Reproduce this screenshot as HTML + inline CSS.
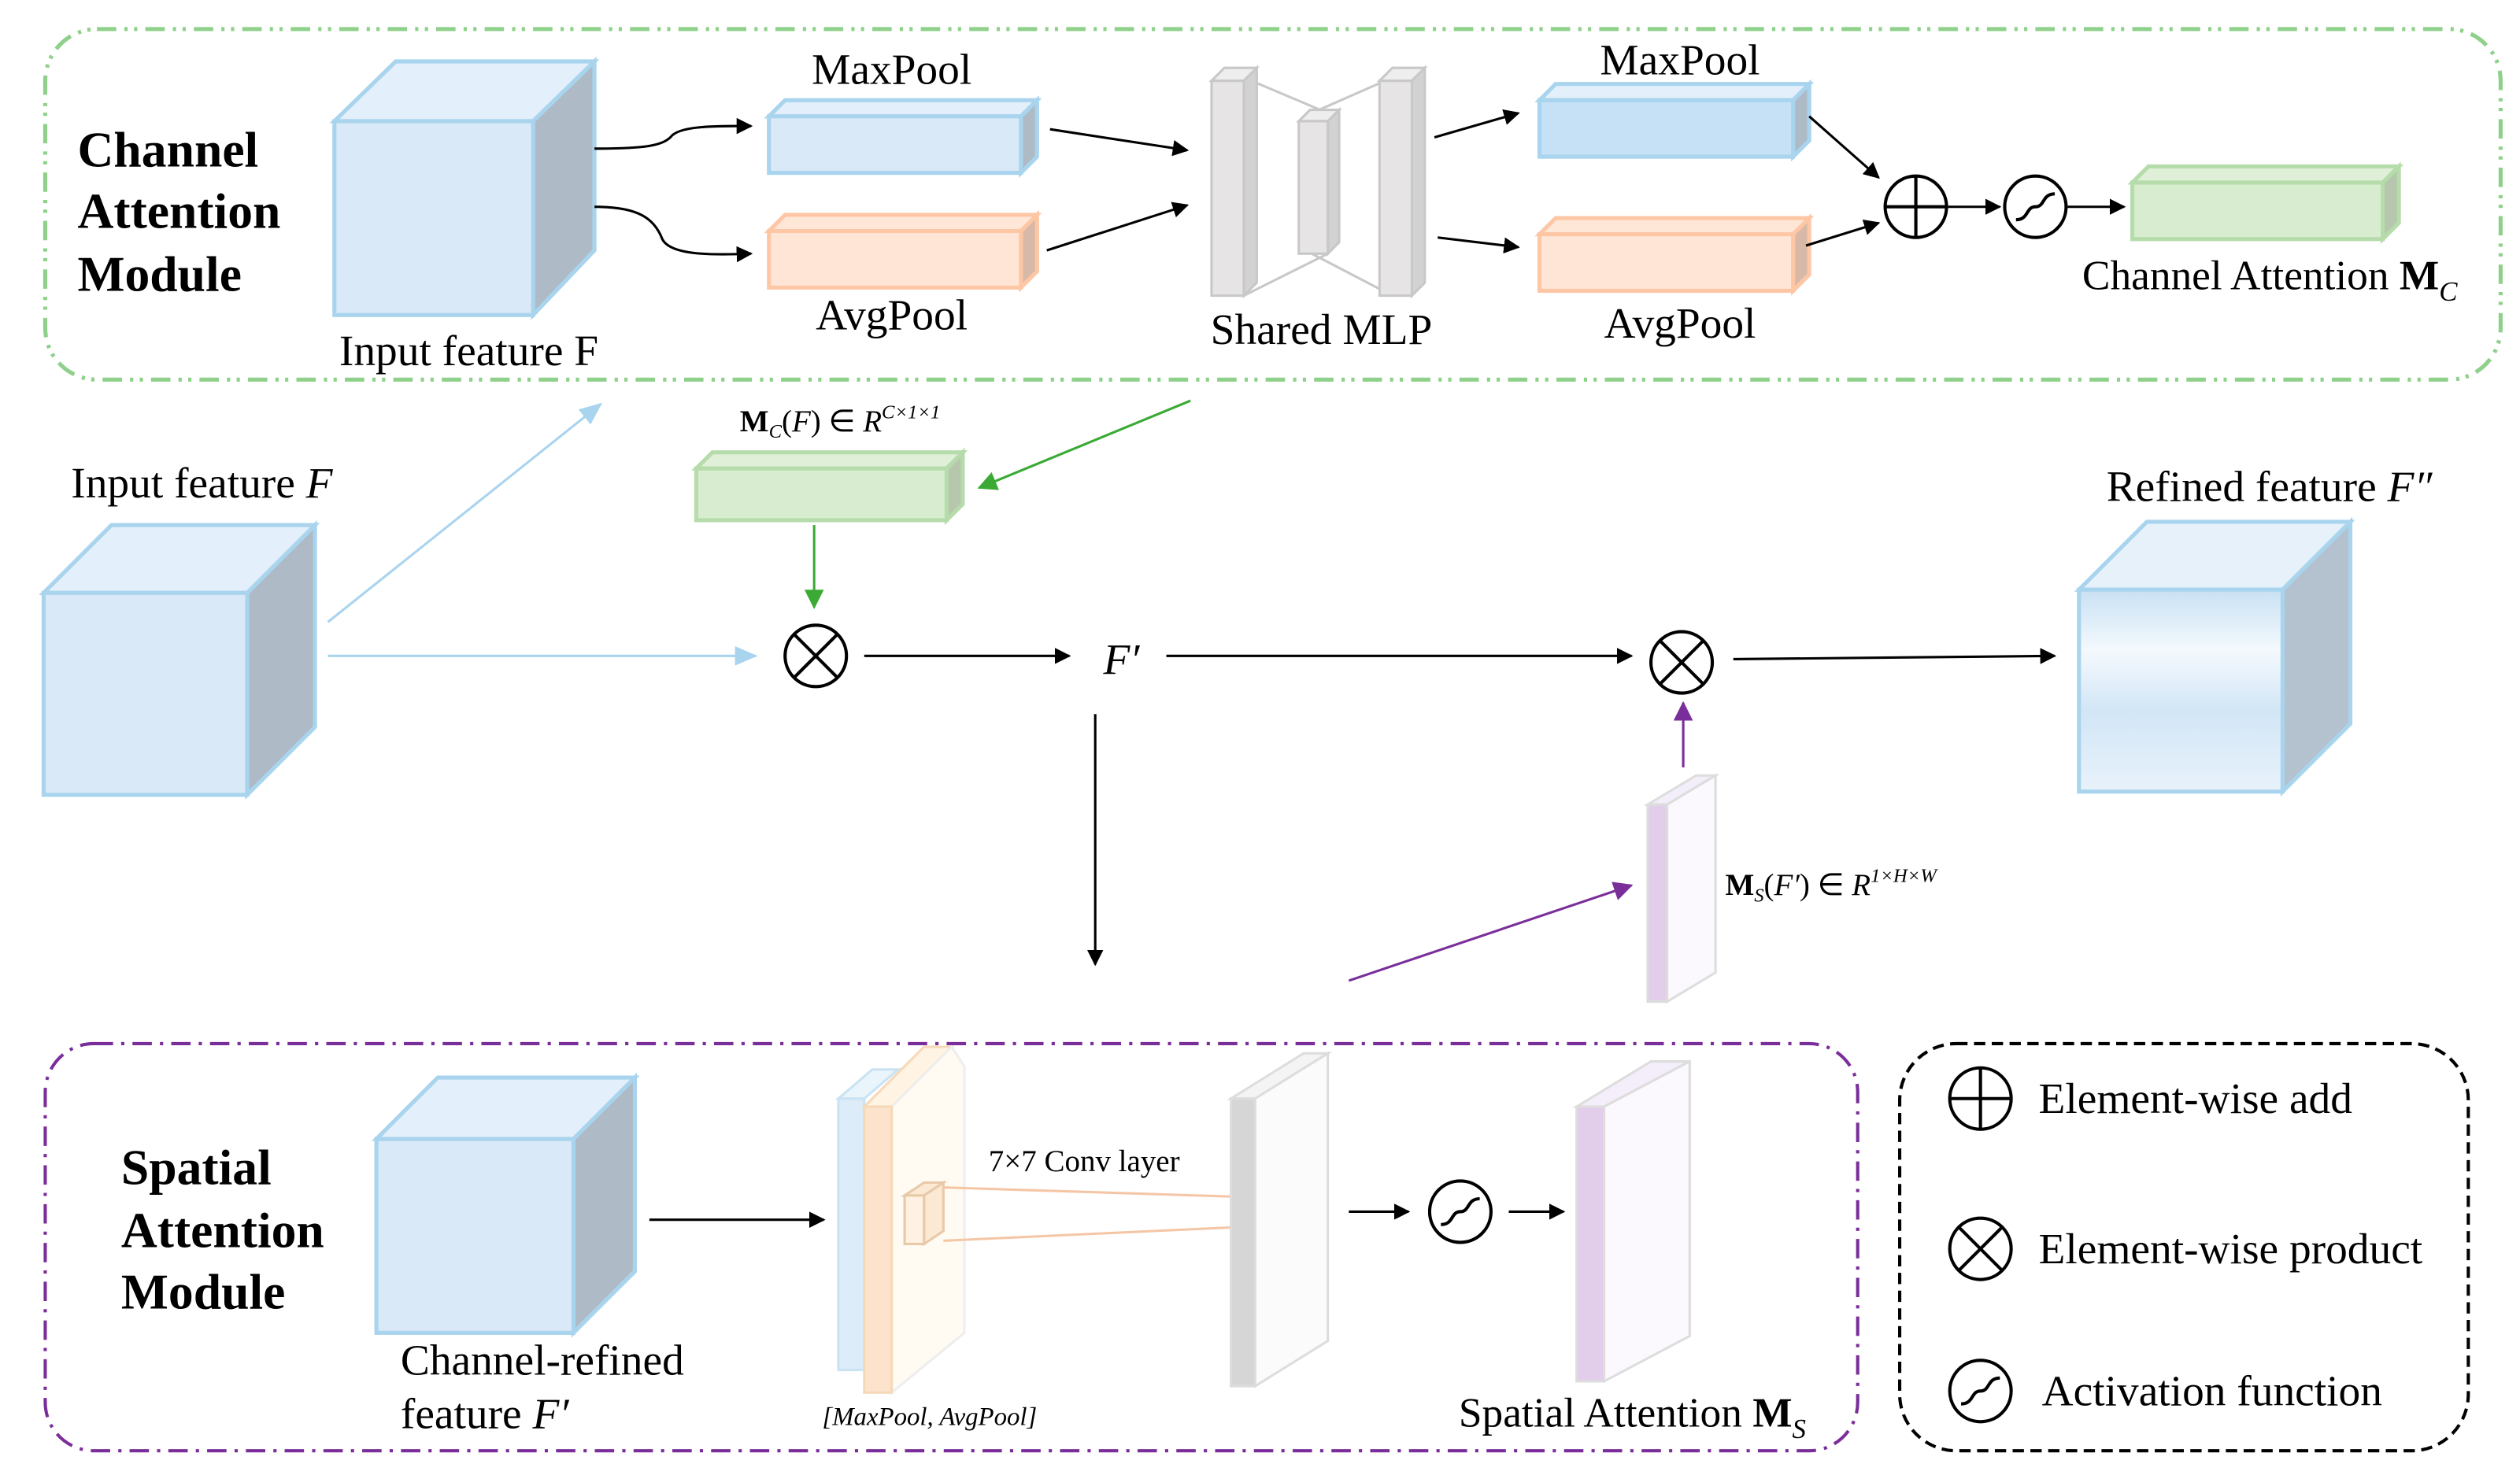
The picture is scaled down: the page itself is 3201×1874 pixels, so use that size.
<!DOCTYPE html>
<html><head><meta charset="utf-8"><style>
html,body{margin:0;padding:0;background:#fff;}
svg{display:block;}
text{font-family:"Liberation Serif",serif;fill:#000;}
</style></head><body>
<svg width="3201" height="1874" viewBox="0 0 1560 913" preserveAspectRatio="none" xmlns="http://www.w3.org/2000/svg">
<defs>
<marker id="ab" markerWidth="10" markerHeight="10" refX="9" refY="5" orient="auto" markerUnits="userSpaceOnUse"><path d="M0,0 L10,5 L0,10 z" fill="#000"/></marker>
<marker id="alb" markerWidth="14" markerHeight="12" refX="13" refY="6" orient="auto" markerUnits="userSpaceOnUse"><path d="M0,0 L14,6 L0,12 z" fill="#a9d4ee"/></marker>
<marker id="ag" markerWidth="12" markerHeight="12" refX="11" refY="6" orient="auto" markerUnits="userSpaceOnUse"><path d="M0,0 L12,6 L0,12 z" fill="#3aaa35"/></marker>
<marker id="ap" markerWidth="12" markerHeight="12" refX="11" refY="6" orient="auto" markerUnits="userSpaceOnUse"><path d="M0,0 L12,6 L0,12 z" fill="#7a2e9a"/></marker>
</defs>

<rect x="28" y="18" width="1520" height="217" rx="32" fill="none" stroke="#8fd08a" stroke-width="2.5" stroke-dasharray="12,5,2,4,2,5"/>
<text x="48" y="103" font-size="31" font-weight="bold">Channel</text>
<text x="48" y="141" font-size="31" font-weight="bold">Attention</text>
<text x="48" y="180" font-size="31" font-weight="bold">Module</text>

<g stroke="#a9d4ee" stroke-width="2.5">
<polygon points="207,75 245,38 368,38 330,75" fill="#e3effa"/>
<polygon points="330,75 368,38 368,155 330,195" fill="#aebbc7"/>
<rect x="207" y="75" width="123" height="120" fill="#dae9f7"/>
</g>
<text x="210" y="226" font-size="27">Input feature F</text>

<path d="M368,92 C400,92 410,90 415,85 C420,78 440,78 465,78" fill="none" stroke="#000" stroke-width="1.5" marker-end="url(#ab)"/>
<path d="M368,128 C395,128 405,135 410,148 C415,158 440,158 465,157" fill="none" stroke="#000" stroke-width="1.5" marker-end="url(#ab)"/>

<g stroke-width="2.5">
<polygon points="476,72 486,62 642,62 632,72" fill="#e3effa" stroke="#a9d4ee"/>
<polygon points="632,72 642,62 642,97 632,107" fill="#aebbc7" stroke="#a9d4ee"/>
<rect x="476" y="72" width="156" height="35" fill="#dae9f7" stroke="#a9d4ee"/>
<polygon points="476,143 486,133 642,133 632,143" fill="#ffe7d8" stroke="#fdc7a6"/>
<polygon points="632,143 642,133 642,168 632,178" fill="#d8b9a8" stroke="#fdc7a6"/>
<rect x="476" y="143" width="156" height="35" fill="#ffe5d6" stroke="#fdc7a6"/>
</g>
<text x="552" y="52" font-size="27" text-anchor="middle">MaxPool</text>
<text x="552" y="204" font-size="27" text-anchor="middle">AvgPool</text>
<line x1="650" y1="80" x2="735" y2="93" stroke="#000" stroke-width="1.5" marker-end="url(#ab)"/>
<line x1="648" y1="155" x2="735" y2="127" stroke="#000" stroke-width="1.5" marker-end="url(#ab)"/>

<g stroke="#c8c8c8" stroke-width="1.5">
<line x1="770" y1="48" x2="822" y2="70"/><line x1="770" y1="183" x2="822" y2="157"/>
<line x1="812" y1="70" x2="862" y2="48"/><line x1="812" y1="157" x2="862" y2="183"/>
<polygon points="750,50 758,42 778,42 770,50" fill="#eee"/><polygon points="770,50 778,42 778,175 770,183" fill="#d2d2d2"/><rect x="750" y="50" width="20" height="133" fill="#e6e4e4"/>
<polygon points="804,75 811,68 829,68 822,75" fill="#eee"/><polygon points="822,75 829,68 829,150 822,157" fill="#d2d2d2"/><rect x="804" y="75" width="18" height="82" fill="#e6e4e4"/>
<polygon points="854,50 862,42 882,42 874,50" fill="#eee"/><polygon points="874,50 882,42 882,175 874,183" fill="#d2d2d2"/><rect x="854" y="50" width="20" height="133" fill="#e6e4e4"/>
</g>
<text x="818" y="213" font-size="27" text-anchor="middle">Shared MLP</text>
<line x1="888" y1="85" x2="940" y2="70" stroke="#000" stroke-width="1.5" marker-end="url(#ab)"/>
<line x1="890" y1="147" x2="940" y2="153" stroke="#000" stroke-width="1.5" marker-end="url(#ab)"/>

<g stroke-width="2.5">
<polygon points="953,62 963,52 1120,52 1110,62" fill="#e3effa" stroke="#a9d4ee"/>
<polygon points="1110,62 1120,52 1120,87 1110,97" fill="#aebbc7" stroke="#a9d4ee"/>
<rect x="953" y="62" width="157" height="35" fill="#c6e0f5" stroke="#a9d4ee"/>
<polygon points="953,145 963,135 1120,135 1110,145" fill="#ffe7d8" stroke="#fdc7a6"/>
<polygon points="1110,145 1120,135 1120,170 1110,180" fill="#d8b9a8" stroke="#fdc7a6"/>
<rect x="953" y="145" width="157" height="35" fill="#ffe5d6" stroke="#fdc7a6"/>
</g>
<text x="1040" y="46" font-size="27" text-anchor="middle">MaxPool</text>
<text x="1040" y="209" font-size="27" text-anchor="middle">AvgPool</text>
<line x1="1120" y1="72" x2="1163" y2="110" stroke="#000" stroke-width="1.5" marker-end="url(#ab)"/>
<line x1="1118" y1="152" x2="1163" y2="138" stroke="#000" stroke-width="1.5" marker-end="url(#ab)"/>

<circle cx="1186" cy="128" r="19" fill="none" stroke="#000" stroke-width="2"/>
<line x1="1167" y1="128" x2="1205" y2="128" stroke="#000" stroke-width="2"/><line x1="1186" y1="109" x2="1186" y2="147" stroke="#000" stroke-width="2"/>
<line x1="1206" y1="128" x2="1238" y2="128" stroke="#000" stroke-width="1.5" marker-end="url(#ab)"/>
<circle cx="1260" cy="128" r="19" fill="none" stroke="#000" stroke-width="2"/>
<path d="M1249,138 C1256,138 1256,118 1260,118 M1260,118 L1260,138 C1264,138 1264,118 1271,118" fill="none" stroke="#000" stroke-width="0"/>
<path d="M1248,136 C1256,136 1254,128 1260,128 C1266,128 1264,120 1272,120" fill="none" stroke="#000" stroke-width="2"/>
<line x1="1280" y1="128" x2="1315" y2="128" stroke="#000" stroke-width="1.5" marker-end="url(#ab)"/>
<g stroke="#b5dcaa" stroke-width="2.5">
<polygon points="1320,113 1330,103 1485,103 1475,113" fill="#e0f0d8"/>
<polygon points="1475,113 1485,103 1485,138 1475,148" fill="#b7c7ae"/>
<rect x="1320" y="113" width="155" height="35" fill="#d8ecd0"/>
</g>
<text x="1289" y="179" font-size="26">Channel Attention <tspan font-weight="bold">M</tspan><tspan font-size="17" font-style="italic" dy="7">C</tspan></text>

<text x="44" y="308" font-size="27">Input feature <tspan font-style="italic">F</tspan></text>
<g stroke="#a9d4ee" stroke-width="2.5">
<polygon points="27,367 69,325 195,325 153,367" fill="#e3effa"/>
<polygon points="153,367 195,325 195,450 153,492" fill="#aebbc7"/>
<rect x="27" y="367" width="126" height="125" fill="#dae9f7"/>
</g>
<line x1="203" y1="385" x2="372" y2="250" stroke="#a9d4ee" stroke-width="1.5" marker-end="url(#alb)"/>
<line x1="203" y1="406" x2="468" y2="406" stroke="#a9d4ee" stroke-width="1.5" marker-end="url(#alb)"/>

<g stroke="#b5dcaa" stroke-width="2.5">
<polygon points="431,290 441,280 596,280 586,290" fill="#e0f0d8"/>
<polygon points="586,290 596,280 596,312 586,322" fill="#b7c7ae"/>
<rect x="431" y="290" width="155" height="32" fill="#d8ecd0"/>
</g>
<text x="458" y="267" font-size="19"><tspan font-weight="bold">M</tspan><tspan font-size="12" font-style="italic" dy="4">C</tspan><tspan dy="-4">(</tspan><tspan font-style="italic">F</tspan>) ∈ <tspan font-style="italic">R</tspan><tspan font-size="12" dy="-8" font-style="italic">C×1×1</tspan></text>
<line x1="737" y1="248" x2="606" y2="302" stroke="#3aaa35" stroke-width="1.5" marker-end="url(#ag)"/>
<line x1="504" y1="325" x2="504" y2="376" stroke="#3aaa35" stroke-width="1.5" marker-end="url(#ag)"/>

<g stroke="#000" stroke-width="2" fill="none">
<circle cx="505" cy="406" r="19"/><line x1="492" y1="393" x2="518" y2="419"/><line x1="518" y1="393" x2="492" y2="419"/>
<circle cx="1041" cy="410" r="19"/><line x1="1028" y1="397" x2="1054" y2="423"/><line x1="1054" y1="397" x2="1028" y2="423"/>
</g>
<line x1="535" y1="406" x2="662" y2="406" stroke="#000" stroke-width="1.5" marker-end="url(#ab)"/>
<text x="683" y="417" font-size="27" font-style="italic">F′</text>
<line x1="722" y1="406" x2="1010" y2="406" stroke="#000" stroke-width="1.5" marker-end="url(#ab)"/>
<line x1="1073" y1="408" x2="1272" y2="406" stroke="#000" stroke-width="1.5" marker-end="url(#ab)"/>

<text x="1304" y="310" font-size="27">Refined feature <tspan font-style="italic">F″</tspan></text>
<linearGradient id="rg" x1="0" y1="0" x2="0" y2="1"><stop offset="0" stop-color="#c9e1f4"/><stop offset="0.3" stop-color="#f4f9fd"/><stop offset="0.6" stop-color="#d2e6f6"/><stop offset="1" stop-color="#e8f2fb"/></linearGradient>
<g stroke="#a9d4ee" stroke-width="2.5">
<polygon points="1287,365 1329,323 1455,323 1413,365" fill="#e6f1fa"/>
<polygon points="1413,365 1455,323 1455,448 1413,490" fill="#b4c2cf"/>
<rect x="1287" y="365" width="126" height="125" fill="url(#rg)"/>
</g>
<line x1="678" y1="442" x2="678" y2="597" stroke="#000" stroke-width="1.5" marker-end="url(#ab)"/>

<g stroke="#ddd" stroke-width="1.5">
<polygon points="1020,498 1050,480 1062,480 1032,498" fill="#f3eefa"/>
<polygon points="1032,498 1062,480 1062,602 1032,620" fill="#fbf8fe"/>
<rect x="1020" y="498" width="12" height="122" fill="#e2cdea"/>
</g>
<line x1="1042" y1="475" x2="1042" y2="435" stroke="#7a2e9a" stroke-width="1.5" marker-end="url(#ap)"/>
<line x1="835" y1="607" x2="1010" y2="548" stroke="#7a2e9a" stroke-width="1.5" marker-end="url(#ap)"/>
<text x="1068" y="554" font-size="19"><tspan font-weight="bold">M</tspan><tspan font-size="12" font-style="italic" dy="4">S</tspan><tspan dy="-4">(</tspan><tspan font-style="italic">F′</tspan>) ∈ <tspan font-style="italic">R</tspan><tspan font-size="12" dy="-8" font-style="italic">1×H×W</tspan></text>

<rect x="28" y="646" width="1122" height="252" rx="30" fill="none" stroke="#7a2e9a" stroke-width="2" stroke-dasharray="12,5,2,5"/>
<text x="75" y="733" font-size="31" font-weight="bold">Spatial</text>
<text x="75" y="772" font-size="31" font-weight="bold">Attention</text>
<text x="75" y="810" font-size="31" font-weight="bold">Module</text>
<g stroke="#a9d4ee" stroke-width="2.5">
<polygon points="233,705 271,667 393,667 355,705" fill="#e3effa"/>
<polygon points="355,705 393,667 393,787 355,825" fill="#aebbc7"/>
<rect x="233" y="705" width="122" height="120" fill="#dae9f7"/>
</g>
<text x="248" y="851" font-size="27">Channel-refined</text>
<text x="248" y="884" font-size="27">feature <tspan font-style="italic">F′</tspan></text>
<line x1="402" y1="755" x2="510" y2="755" stroke="#000" stroke-width="1.5" marker-end="url(#ab)"/>

<g stroke-width="1.5">
<polygon points="519,680 540,662 556,662 535,680" fill="#eaf4fb" stroke="#c9e3f3"/>
<rect x="519" y="680" width="16" height="168" fill="#dcecf8" stroke="#c9e3f3"/>
<polygon points="535,685 572,648 589,648 552,685" fill="#fff3e3" stroke="#f5d9b8"/>
<polygon points="552,685 589,648 597,660 597,825 552,862" fill="#fffaf2" stroke="#eee"/>
<rect x="535" y="685" width="17" height="177" fill="#fde3cc" stroke="#f5d9b8"/>
<polygon points="560,740 572,732 584,732 572,740" fill="#fbe9d3" stroke="#e8c9a8"/>
<polygon points="572,740 584,732 584,762 572,770" fill="#fbe9d3" stroke="#e8c9a8"/>
<rect x="560" y="740" width="12" height="30" fill="#fff2e2" stroke="#e8c9a8"/>
</g>
<line x1="584" y1="735" x2="805" y2="742" stroke="#f5c6a6" stroke-width="1.5"/>
<line x1="584" y1="768" x2="800" y2="758" stroke="#f5c6a6" stroke-width="1.5"/>
<rect x="797" y="740" width="10" height="18" fill="#fde8d2" stroke="#e8c9a8"/>
<text x="612" y="725" font-size="19">7×7 Conv layer</text>
<g stroke="#ddd" stroke-width="1.5">
<polygon points="762,680 807,652 822,652 777,680" fill="#f4f4f4"/>
<polygon points="777,680 822,652 822,830 777,858" fill="#fbfbfb"/>
<rect x="762" y="680" width="15" height="178" fill="#d6d6d6"/>
</g>
<line x1="835" y1="750" x2="872" y2="750" stroke="#000" stroke-width="1.5" marker-end="url(#ab)"/>
<circle cx="904" cy="750" r="19" fill="none" stroke="#000" stroke-width="2"/>
<path d="M892,758 C900,758 898,750 904,750 C910,750 908,742 916,742" fill="none" stroke="#000" stroke-width="2"/>
<line x1="934" y1="750" x2="968" y2="750" stroke="#000" stroke-width="1.5" marker-end="url(#ab)"/>
<g stroke="#ddd" stroke-width="1.5">
<polygon points="976,685 1022,657 1046,657 993,685" fill="#f3eefa"/>
<polygon points="993,685 1046,657 1046,827 993,855" fill="#fbf8fe"/>
<rect x="976" y="685" width="17" height="170" fill="#e2cdea"/>
</g>
<text x="903" y="883" font-size="26">Spatial Attention <tspan font-weight="bold">M</tspan><tspan font-size="17" font-style="italic" dy="7">S</tspan></text>
<text x="509" y="882" font-size="16" font-style="italic">[MaxPool, AvgPool]</text>

<rect x="1176" y="646" width="352" height="252" rx="35" fill="none" stroke="#000" stroke-width="2" stroke-dasharray="7,4"/>
<g stroke="#000" stroke-width="2" fill="none">
<circle cx="1226" cy="680" r="19"/><line x1="1207" y1="680" x2="1245" y2="680"/><line x1="1226" y1="661" x2="1226" y2="699"/>
<circle cx="1226" cy="773" r="19"/><line x1="1213" y1="760" x2="1239" y2="786"/><line x1="1239" y1="760" x2="1213" y2="786"/>
<circle cx="1226" cy="861" r="19"/>
<path d="M1214,869 C1222,869 1220,861 1226,861 C1232,861 1230,853 1238,853"/>
</g>
<text x="1262" y="689" font-size="27">Element-wise add</text>
<text x="1262" y="782" font-size="27">Element-wise product</text>
<text x="1264" y="870" font-size="27">Activation function</text>
</svg>
</body></html>
